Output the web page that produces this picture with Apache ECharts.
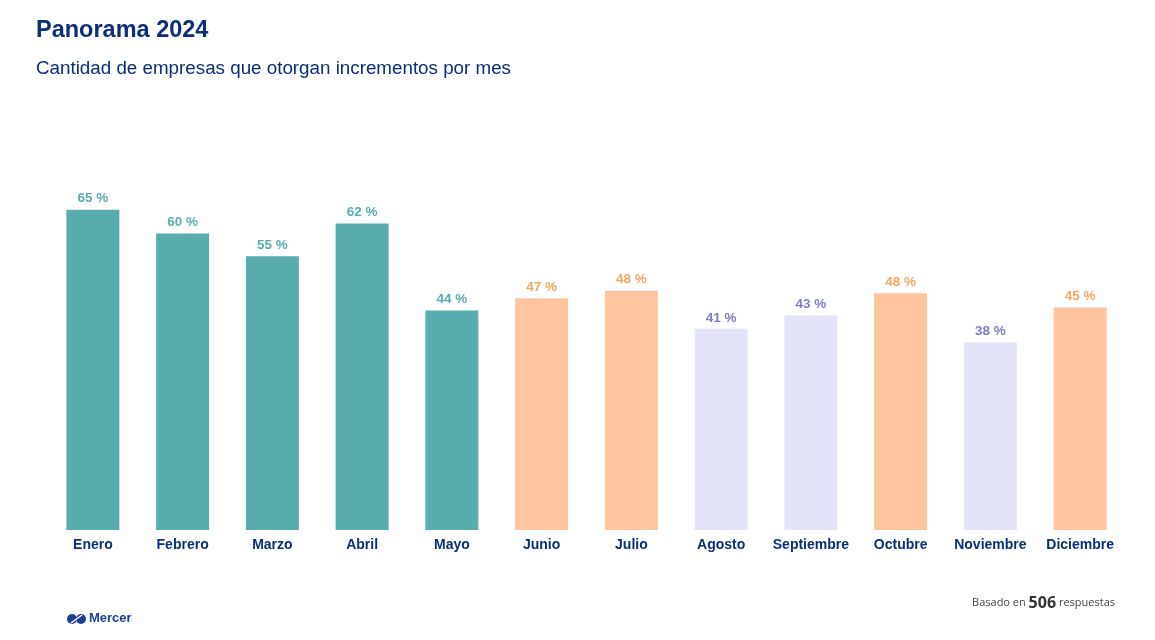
<!DOCTYPE html>
<html><head><meta charset="utf-8">
<script src="https://cdn.jsdelivr.net/npm/echarts@6/dist/echarts.min.js"></script>
<style>html,body{margin:0;padding:0;background:#fff}#c{width:1155px;height:640px}</style>
</head><body><div id="c"></div>
<script>
const months = ['Enero','Febrero','Marzo','Abril','Mayo','Junio','Julio','Agosto','Septiembre','Octubre','Noviembre','Diciembre'];
const values = [64.8, 60.0, 55.4, 62.0, 44.4, 46.9, 48.4, 40.7, 43.4, 47.9, 38.0, 45.0];
const groups = ['t','t','t','t','t','o','o','p','p','o','p','o'];
const barColors = {t:'#5aadad', o:'#fec59f', p:'#e4e4f8'};
const labelColors = {t:'#5aadad', o:'#f0a763', p:'#7d7dc6'};

const chart = echarts.init(document.getElementById('c'));
chart.setOption({
  backgroundColor:'#fff',
  animation:false,
  title:[
    {text:'Panorama 2024', left:31, top:14, textStyle:{fontFamily:'Liberation Sans', fontSize:23.5, fontWeight:'bold', color:'#0b2d7a'}},
    {text:'Cantidad de empresas que otorgan incrementos por mes', left:31, top:54, textStyle:{fontFamily:'Liberation Sans', fontSize:18.8, fontWeight:'normal', color:'#0b2d7a'}}
  ],
  grid:{left:48, right:30, top:184, bottom:110},
  xAxis:{type:'category', data:months, axisLine:{show:false}, axisTick:{show:false},
    axisLabel:{interval:0, margin:8, fontFamily:'Liberation Sans', fontSize:14, fontWeight:'bold', color:'#0b2d7a'}},
  yAxis:{type:'value', min:0, max:70, show:false, splitLine:{show:false}},
  series:[{
    type:'bar', barWidth:53,
    data: values.map((v,i)=>({value:v, itemStyle:{color:barColors[groups[i]]},
      label:{color:labelColors[groups[i]]}})),
    label:{show:true, position:'top', distance:4, fontFamily:'Liberation Sans', fontSize:13.5, fontWeight:'bold',
      formatter:p=>Math.round(p.value)+' %'}
  }],
  graphic:[
    {type:'group', left:67, top:612, children:[
      {type:'circle', shape:{cx:5, cy:6, r:5}, style:{fill:'#1c3f94'}},
      {type:'circle', shape:{cx:14, cy:6, r:5}, style:{fill:'#1c3f94'}},
      {type:'line', shape:{x1:4,y1:10,x2:15,y2:2}, style:{stroke:'#fff', lineWidth:1.5}},
      {type:'text', x:22, y:-1, style:{text:'Mercer', fontFamily:'Liberation Sans', fontSize:13, fontWeight:'bold', fill:'#1c3f94'}}
    ]},
    {type:'text', right:40, top:595, style:{
      text:'{a|Basado en }{b|506}{a| respuestas}',
      rich:{a:{fontFamily:'Open Sans', fontSize:11, fill:'#444', color:'#444'}, b:{fontFamily:'Open Sans', fontSize:16, fill:'#333', color:'#333', fontWeight:'bold'}}
    }}
  ]
});
</script></body></html>
